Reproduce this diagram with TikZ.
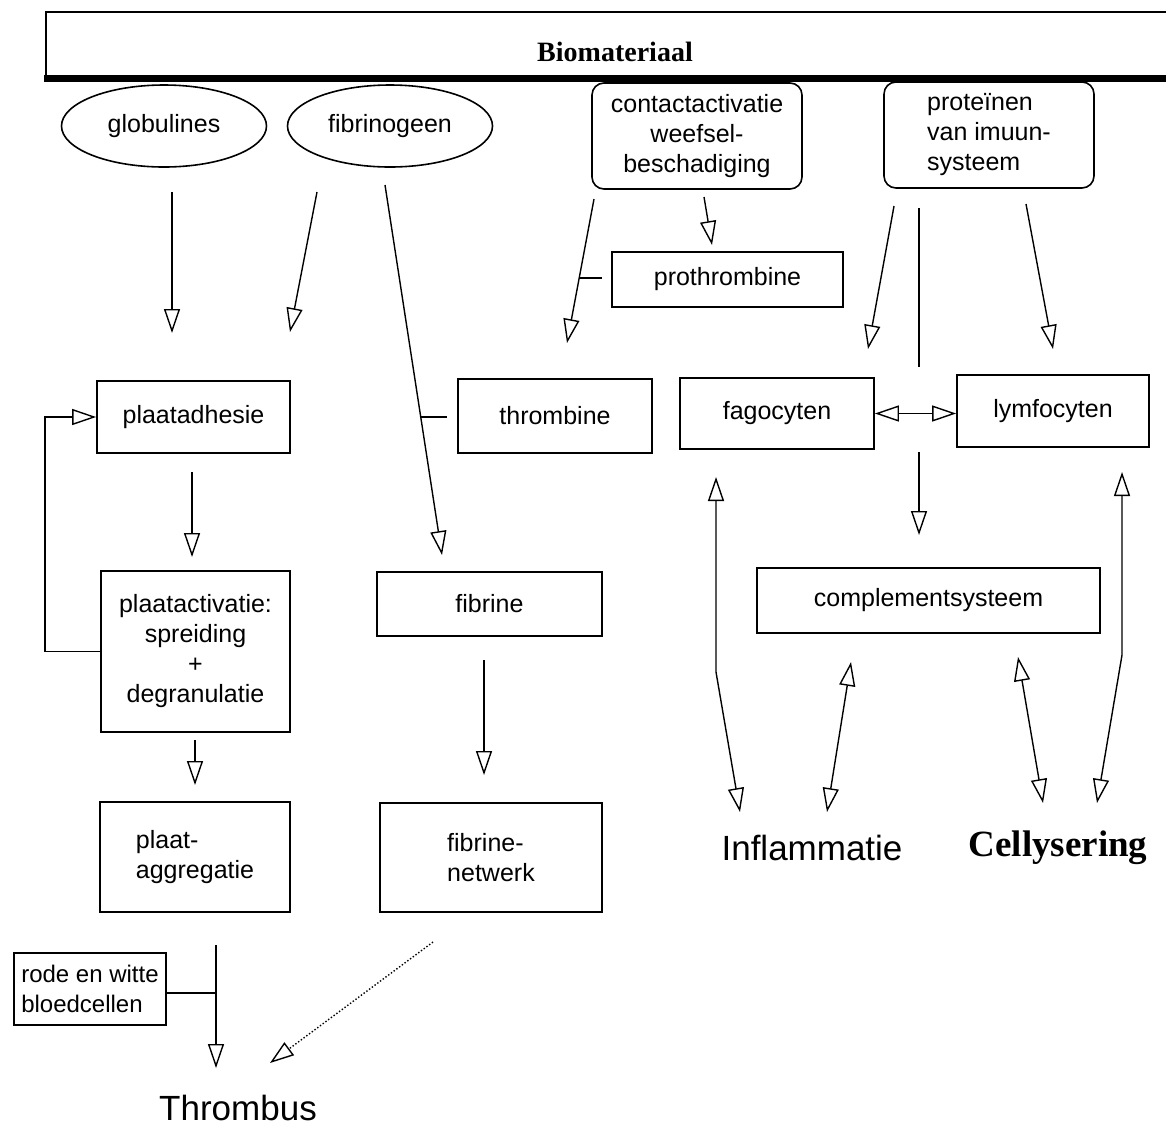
\documentclass[tikz,border=0pt]{standalone}
\usepackage{fontspec}
\setmainfont{Liberation Sans}
\newfontfamily\serifbold{Liberation Serif}
\usetikzlibrary{arrows.meta,shapes.geometric}

\begin{document}
\begin{tikzpicture}[x=0.5pt,y=-0.5pt,
    every node/.style={font=\fontsize{12.5}{15}\selectfont},
    blok/.style={draw,line width=0.9pt,inner sep=0pt},
    ovaal/.style={draw,ellipse,line width=0.8pt,minimum width=102.5pt,minimum height=41pt},
    rond/.style={draw,rounded corners=6pt,line width=0.8pt,inner sep=0pt,minimum width=105pt,minimum height=53pt},
    pijl/.style={-{Triangle[open,length=12pt,width=8pt]},line width=0.7pt},
    dubbel/.style={{Triangle[open,length=12pt,width=8pt]}-{Triangle[open,length=12pt,width=8pt]},line width=0.7pt},
    groot/.style={font=\fontsize{17.5}{20}\selectfont}]
    \useasboundingbox (0,0) rectangle (1166,1126);
    \draw[line width=0.8pt] (1170,12) -- (46,12) -- (46,80);
    \draw[line width=3.5pt] (44,78) -- (1170,78);
    \node[font=\serifbold\bfseries\fontsize{14}{16}\selectfont] (bio) at (615,52) {Biomateriaal};
    \node[ovaal] (glob) at (164,126) {globulines};
    \node[ovaal] (fibr) at (390,126) {fibrinogeen};
    \node[rond,align=center] (cont) at (697,136) {contactactivatie\\weefsel-\\beschadiging};
    \node[rond,align=left] (prot) at (989,135) {proteïnen\\van imuun-\\systeem};
    \node[blok,minimum width=115.5pt,minimum height=27.5pt] (proth) at (727.5,279.5) {prothrombine};
    \node[blok,minimum width=97pt,minimum height=37pt] (thromb) at (555,416) {thrombine};
    \node[blok,minimum width=97pt,minimum height=35.5pt] (fago) at (777,413.5) {fagocyten};
    \node[blok,minimum width=96pt,minimum height=36pt] (lymf) at (1053,411) {lymfocyten};
    \node[blok,minimum width=171.5pt,minimum height=32.5pt] (compl) at (928.5,600.5) {complementsysteem};
    \node[blok,minimum width=96.5pt,minimum height=36pt] (adh) at (193.5,417) {plaatadhesie};
    \node[blok,minimum width=94.5pt,minimum height=80.5pt,align=center] (act) at (195.5,651.5) {plaatactivatie:\\spreiding\\+\\degranulatie};
    \node[blok,minimum width=95pt,minimum height=55pt,align=left] (aggr) at (195,857) {plaat-\\aggregatie};
    \node[blok,minimum width=112.5pt,minimum height=32pt] (fib) at (489.5,604) {fibrine};
    \node[blok,minimum width=111pt,minimum height=54.5pt,align=left] (net) at (491,857.5) {fibrine-\\netwerk};
    \node[blok,minimum width=76pt,minimum height=36pt,align=left,font=\fontsize{12}{15}\selectfont] (rbc) at (90,989) {rode en witte\\bloedcellen};
    \node[groot] (thr) at (238,1108) {Thrombus};
    \node[groot] (infl) at (812,848) {Inflammatie};
    \node[font=\serifbold\bfseries\fontsize{18.5}{22}\selectfont] (cell) at (1058,848) {Cellysering};

    \draw[pijl] (172,192) coordinate (g1) -- (172,333) coordinate (g2);
    \draw[pijl] (317,192) coordinate (f1) -- (290,332) coordinate (f2);
    \draw[pijl] (385,185) coordinate (f3) -- (442,555) coordinate (f4);
    \draw[line width=0.7pt] (421,417) coordinate (t1) -- (447,417) coordinate (t2);
    \draw[pijl] (594,199) coordinate (c1) -- (567,343) coordinate (c2);
    \draw[line width=0.7pt] (580,278) coordinate (p1) -- (602,278) coordinate (p2);
    \draw[pijl] (704,197) coordinate (c3) -- (712,245) coordinate (c4);
    \draw[pijl] (894,206) coordinate (i1) -- (868,349) coordinate (i2);
    \draw[line width=0.7pt] (919,208) coordinate (i3) -- (919,367) coordinate (i4);
    \draw[pijl] (1026,204) coordinate (i5) -- (1053,349) coordinate (i6);
    \draw[dubbel] (fago.east) -- (fago.east -| lymf.west);
    \draw[pijl] (919,452) coordinate (k1) -- (919,535) coordinate (k2);
    \draw[dubbel] (716,477) coordinate (a1) -- (716,672) -- (740,812) coordinate (a2);
    \draw[dubbel] (851,662) coordinate (a3) -- (827,812) coordinate (a4);
    \draw[dubbel] (1018,657) coordinate (a5) -- (1043,803) coordinate (a6);
    \draw[dubbel] (1122,472) coordinate (a7) -- (1122,655) -- (1097,803) coordinate (a8);
    \draw[pijl] (192,472) coordinate (b1) -- (192,557) coordinate (b2);
    \draw[pijl] (act.west) -- ++(-55,0) |- (adh.west);
    \draw[pijl] (195,740) coordinate (b3) -- (195,785) coordinate (b4);
    \draw[pijl] (484,660) coordinate (n1) -- (484,775) coordinate (n2);
    \draw[pijl] (216,945) coordinate (r1) -- (216,1068) coordinate (r2);
    \draw[line width=0.7pt] (rbc.east |- 0,993) -- (216,993);
    \draw[pijl,densely dotted] (433,942) coordinate (d1) -- (270,1063) coordinate (d2);
\end{tikzpicture}
\end{document}
